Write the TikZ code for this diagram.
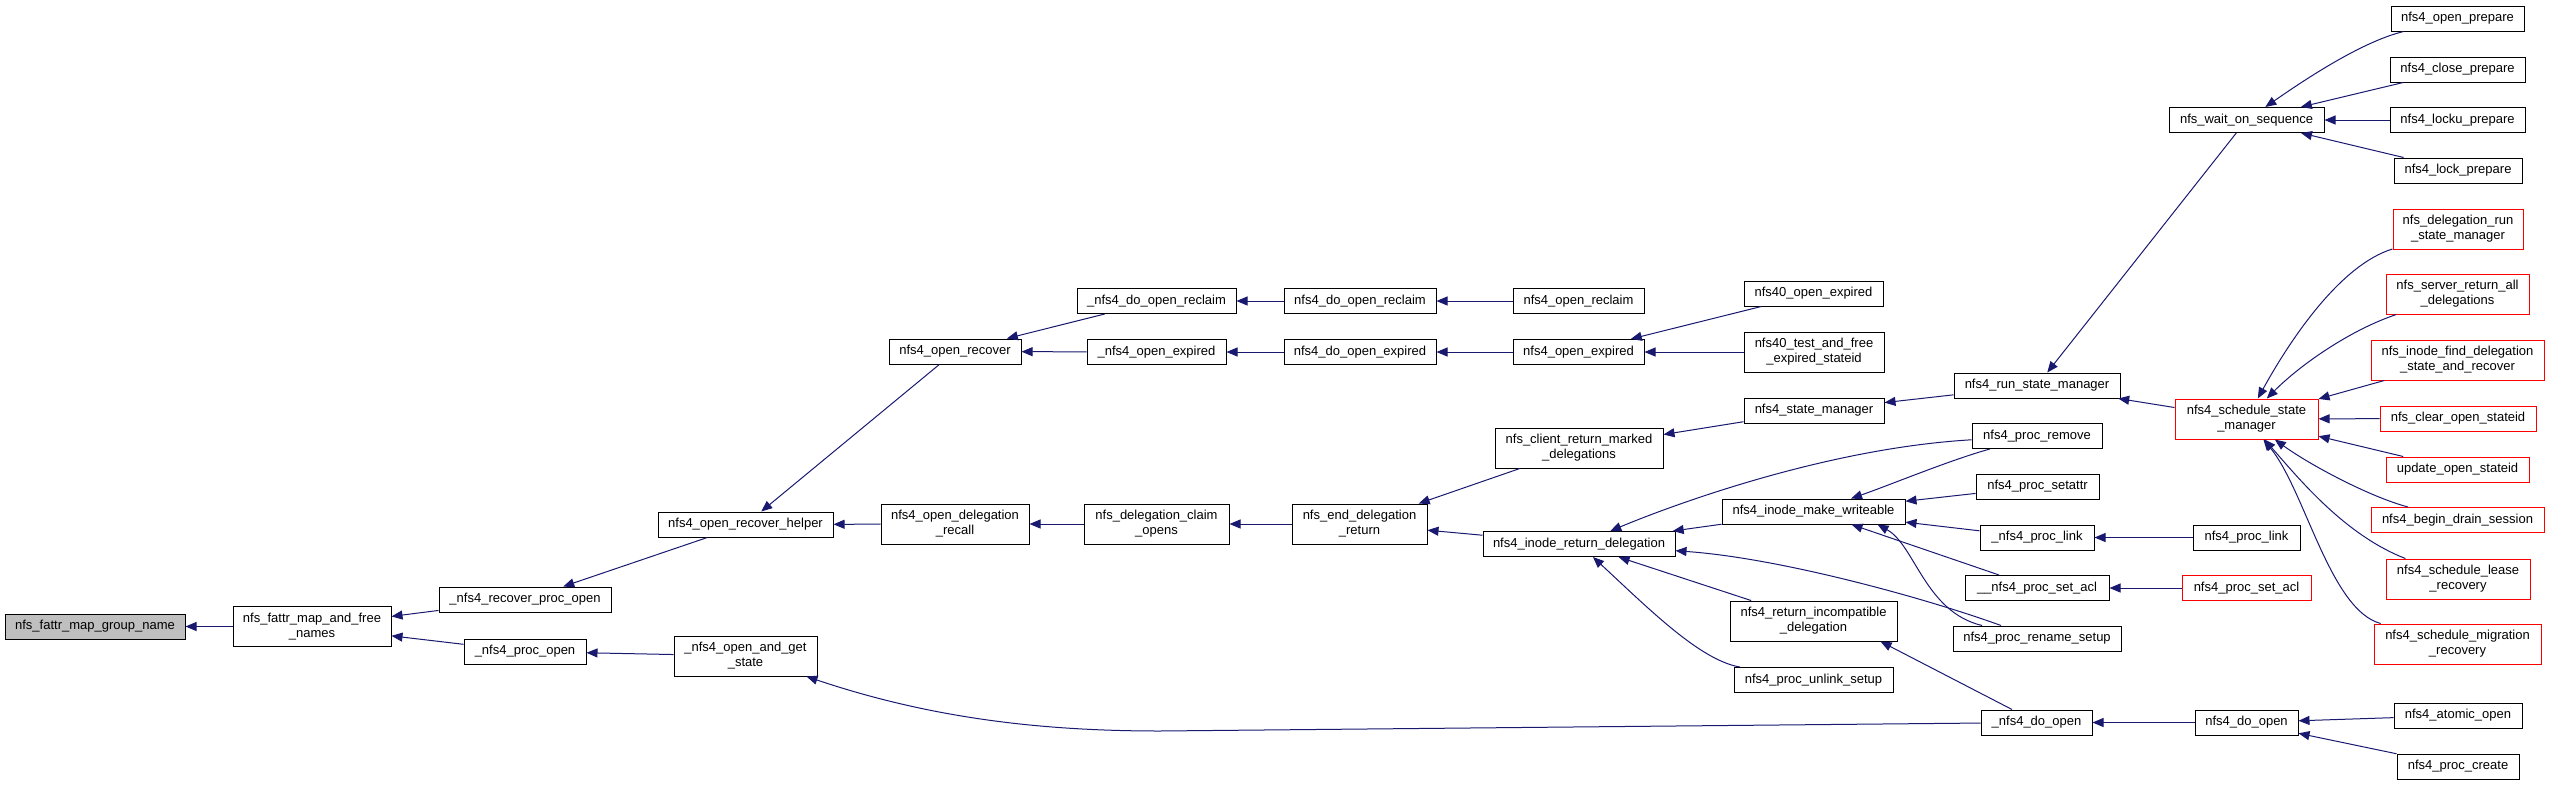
\documentclass[tikz,border=0pt]{standalone}
\usepackage{fontspec}
\newfontfamily\dxfont{Liberation Sans}
\usepackage{tikz}
\usetikzlibrary{arrows.meta}
\definecolor{callblue}{HTML}{191970}
\definecolor{rootgrey}{HTML}{BFBFBF}
\tikzset{
  fn/.style={draw=black, line width=1pt, fill=white, inner sep=0pt, align=center,
    minimum height=25, font=\dxfont\fontsize{13}{15}\selectfont},
  fn2/.style={fn, minimum height=40},
  hot/.style={draw=red},
  call/.style={draw=callblue, line width=1pt, arrows={Triangle[length=11pt,width=9pt]-}}
}

\begin{document}
\begin{tikzpicture}[x=1pt, y=-1pt]
\useasboundingbox (0,0) rectangle (2549,785);
\node[fn, fill=rootgrey, minimum width=180] (grp) at (95,626.5) {nfs\_fattr\_map\_group\_name};
\node[fn2, minimum width=158] (mapfree) at (312,626.5) {nfs\_fattr\_map\_and\_free\\\_names};
\node[fn, minimum width=172] (recproc) at (525,599.5) {\_nfs4\_recover\_proc\_open};
\node[fn, minimum width=122] (procopen) at (525,651.5) {\_nfs4\_proc\_open};
\node[fn, minimum width=175] (helper) at (745.5,524.5) {nfs4\_open\_recover\_helper};
\node[fn2, minimum width=143] (getstate) at (745.5,656) {\_nfs4\_open\_and\_get\\\_state};
\node[fn, minimum width=132] (recover) at (955,351.5) {nfs4\_open\_recover};
\node[fn2, minimum width=148] (delrecall) at (955,524) {nfs4\_open\_delegation\\\_recall};
\node[fn, minimum width=159] (doreclaimu) at (1156.5,301) {\_nfs4\_do\_open\_reclaim};
\node[fn, minimum width=139] (expiredu) at (1156.5,352) {\_nfs4\_open\_expired};
\node[fn2, minimum width=145] (claim) at (1156.5,524) {nfs\_delegation\_claim\\\_opens};
\node[fn, minimum width=152] (doreclaim) at (1360,301) {nfs4\_do\_open\_reclaim};
\node[fn, minimum width=152] (doexpired) at (1360,352) {nfs4\_do\_open\_expired};
\node[fn2, minimum width=135] (enddel) at (1359.5,524) {nfs\_end\_delegation\\\_return};
\node[fn, minimum width=131] (reclaim) at (1578.5,301) {nfs4\_open\_reclaim};
\node[fn, minimum width=131] (openexp) at (1578.5,352) {nfs4\_open\_expired};
\node[fn2, minimum width=168] (marked) at (1579,448) {nfs\_client\_return\_marked\\\_delegations};
\node[fn, minimum width=192] (retdel) at (1579,544) {nfs4\_inode\_return\_delegation};
\node[fn, minimum width=139] (o40exp) at (1813.5,293.5) {nfs40\_open\_expired};
\node[fn2, minimum width=140] (o40test) at (1814,352) {nfs40\_test\_and\_free\\\_expired\_stateid};
\node[fn, minimum width=140] (stmgr) at (1814,410.5) {nfs4\_state\_manager};
\node[fn, minimum width=183] (writeable) at (1813.5,511.5) {nfs4\_inode\_make\_writeable};
\node[fn2, minimum width=167] (incompat) at (1813.5,621) {nfs4\_return\_incompatible\\\_delegation};
\node[fn, minimum width=159] (unlink) at (1813.5,680) {nfs4\_proc\_unlink\_setup};
\node[fn, minimum width=166] (runstm) at (2037,385.5) {nfs4\_run\_state\_manager};
\node[fn, minimum width=130] (remove) at (2037,436) {nfs4\_proc\_remove};
\node[fn, minimum width=123] (setattr) at (2037.5,486.5) {nfs4\_proc\_setattr};
\node[fn, minimum width=114] (plinku) at (2037,537.5) {\_nfs4\_proc\_link};
\node[fn, minimum width=144] (setaclu) at (2037,588) {\_\_nfs4\_proc\_set\_acl};
\node[fn, minimum width=168] (rename) at (2037,638.5) {nfs4\_proc\_rename\_setup};
\node[fn, minimum width=111] (doopenu) at (2036.5,722.5) {\_nfs4\_do\_open};
\node[fn, minimum width=155] (waitseq) at (2246.5,120) {nfs\_wait\_on\_sequence};
\node[fn2, hot, minimum width=143] (schedstm) at (2246.5,419) {nfs4\_schedule\_state\\\_manager};
\node[fn, minimum width=107] (plink) at (2246.5,537.5) {nfs4\_proc\_link};
\node[fn, hot, minimum width=129] (setacl) at (2246.5,588) {nfs4\_proc\_set\_acl};
\node[fn, minimum width=103] (doopen) at (2246.5,722.5) {nfs4\_do\_open};
\node[fn, minimum width=133] (openprep) at (2457.5,18.5) {nfs4\_open\_prepare};
\node[fn, minimum width=135] (closeprep) at (2457.5,69.5) {nfs4\_close\_prepare};
\node[fn, minimum width=135] (lockuprep) at (2457.5,120) {nfs4\_locku\_prepare};
\node[fn, minimum width=128] (lockprep) at (2458,170.5) {nfs4\_lock\_prepare};
\node[fn2, hot, minimum width=130] (delrun) at (2458,229) {nfs\_delegation\_run\\\_state\_manager};
\node[fn2, hot, minimum width=143] (srvret) at (2457.5,294) {nfs\_server\_return\_all\\\_delegations};
\node[fn2, hot, minimum width=173] (findel) at (2457.5,360) {nfs\_inode\_find\_delegation\\\_state\_and\_recover};
\node[fn, hot, minimum width=156] (clearst) at (2458,418.5) {nfs\_clear\_open\_stateid};
\node[fn, hot, minimum width=143] (updst) at (2457.5,469.5) {update\_open\_stateid};
\node[fn, hot, minimum width=173] (drain) at (2457.5,520) {nfs4\_begin\_drain\_session};
\node[fn2, hot, minimum width=144] (lease) at (2458,579) {nfs4\_schedule\_lease\\\_recovery};
\node[fn2, hot, minimum width=167] (migr) at (2457.5,644) {nfs4\_schedule\_migration\\\_recovery};
\node[fn, minimum width=128] (atomic) at (2458,715.5) {nfs4\_atomic\_open};
\node[fn, minimum width=122] (create) at (2458,766.5) {nfs4\_proc\_create};

\draw[call] (grp) -- (mapfree);
\draw[call] (mapfree) -- (recproc);
\draw[call] (mapfree) -- (procopen);
\draw[call] (recproc) -- (helper);
\draw[call] (procopen) -- (getstate);
\draw[call] (helper) -- (recover);
\draw[call] (helper) -- (delrecall);
\draw[call] (recover) -- (doreclaimu);
\draw[call] (recover) -- (expiredu);
\draw[call] (delrecall) -- (claim);
\draw[call] (doreclaimu) -- (doreclaim);
\draw[call] (expiredu) -- (doexpired);
\draw[call] (claim) -- (enddel);
\draw[call] (doreclaim) -- (reclaim);
\draw[call] (doexpired) -- (openexp);
\draw[call] (enddel) -- (marked);
\draw[call] (enddel) -- (retdel);
\draw[call] (openexp) -- (o40exp);
\draw[call] (openexp) -- (o40test);
\draw[call] (marked) -- (stmgr);
\draw[call] (stmgr) -- (runstm);
\draw[call] (runstm) -- (waitseq);
\draw[call] (runstm) -- (schedstm);
\draw[call] (retdel) -- (writeable);
\draw[call] (retdel) .. controls (1680,502) and (1830,448) .. (remove);
\draw[call] (retdel) .. controls (1780,558) and (1925,598) .. (rename);
\draw[call] (retdel) -- (incompat);
\draw[call] (retdel) .. controls (1650,610) and (1700,660) .. (unlink);
\draw[call] (writeable) .. controls (1890,485) and (1950,460) .. (remove);
\draw[call] (writeable) -- (setattr);
\draw[call] (writeable) -- (plinku);
\draw[call] (writeable) -- (setaclu);
\draw[call] ([xshift=-28pt]writeable.south east) .. controls (1915,545) and (1925,612) .. (rename);
\draw[call] (incompat.-17) -- (doopenu.152);
\draw[call] (getstate) .. controls (930,718) and (1040,731) .. (1160,731) -- (doopenu);
\draw[call] (plinku) -- (plink);
\draw[call] (setaclu) -- (setacl);
\draw[call] (doopenu) -- (doopen);
\draw[call] (waitseq) .. controls (2300,83) and (2360,42) .. (openprep);
\draw[call] (waitseq) -- (closeprep);
\draw[call] (waitseq) -- (lockuprep);
\draw[call] (waitseq) -- (lockprep);
\draw[call] (schedstm) .. controls (2290,340) and (2340,265) .. (delrun);
\draw[call] (schedstm) .. controls (2300,365) and (2350,330) .. (srvret);
\draw[call] (schedstm) -- (findel);
\draw[call] (schedstm) -- (clearst);
\draw[call] (schedstm) -- (updst);
\draw[call] (schedstm) .. controls (2310,465) and (2370,497) .. (drain);
\draw[call] (schedstm) .. controls (2300,480) and (2345,535) .. (lease);
\draw[call] (schedstm) .. controls (2305,490) and (2330,610) .. (migr);
\draw[call] (doopen) -- (atomic);
\draw[call] (doopen) -- (create);
\end{tikzpicture}
\end{document}
